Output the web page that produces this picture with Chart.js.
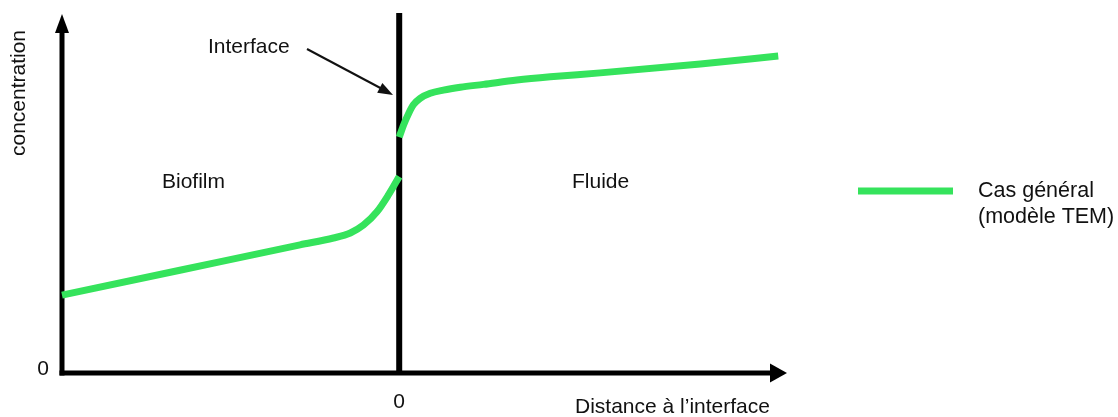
<!DOCTYPE html>
<html>
<head>
<meta charset="utf-8">
<script src="https://cdn.jsdelivr.net/npm/chart.js@4/dist/chart.umd.min.js"></script>
<style>
  body { margin: 0; background: #fff; }
  #graf { display: block; }
</style>
</head>
<body>
<canvas id="graf" width="1118" height="417"></canvas>
<script>
// profil de concentration de part et d'autre de l'interface
const biofilmX = [-10, -6.47, -2.94, -1.95, -1.45, -1.06, -0.66, -0.32, 0];
const biofilmY = [2.17, 2.87, 3.57, 3.76, 3.90, 4.12, 4.49, 4.96, 5.47];
const fluideX = [0, 0.13, 0.28, 0.42, 0.62, 0.92, 1.31, 1.81, 2.5, 3.49, 4.48, 5.96, 8.93, 11.24];
const fluideY = [6.57, 6.91, 7.23, 7.47, 7.65, 7.79, 7.88, 7.96, 8.04, 8.16, 8.25, 8.36, 8.61, 8.83];
const xTicks = [0];
const yTicks = [0];
const zones = ["Biofilm", "Fluide"];
const legende = ["Cas général", "(modèle TEM)"];
const titreX = "Distance à l’interface";
const titreY = "concentration";

const vert = "#35e35c";
const police = '21px "Liberation Sans", Arial, sans-serif';

function points(xs, ys) {
    return xs.map((x, i) => ({ x: x, y: ys[i] }));
}

function fleche(ctx, x0, y0, x1, y1, long, larg) {
    const a = Math.atan2(y1 - y0, x1 - x0);
    ctx.save();
    ctx.translate(x1, y1);
    ctx.rotate(a);
    ctx.beginPath();
    ctx.moveTo(0, 0);
    ctx.lineTo(-long, -larg / 2);
    ctx.lineTo(-long, larg / 2);
    ctx.closePath();
    ctx.fill();
    ctx.restore();
}

// axes, interface et textes
const schema = {
    id: "schema",
    beforeDatasetsDraw(chart) {
        const ctx = chart.ctx;
        const a = chart.chartArea;
        const sx = chart.scales.x;
        ctx.save();
        ctx.strokeStyle = "#000";
        ctx.fillStyle = "#000";
        ctx.lineWidth = 5;
        // axe vertical
        ctx.beginPath();
        ctx.moveTo(a.left, a.bottom + 2.5);
        ctx.lineTo(a.left, a.top + 16);
        ctx.stroke();
        fleche(ctx, a.left, a.bottom, a.left, a.top, 19, 14);
        // axe horizontal
        ctx.beginPath();
        ctx.moveTo(a.left - 2.5, a.bottom);
        ctx.lineTo(a.right - 15, a.bottom);
        ctx.stroke();
        fleche(ctx, a.left, a.bottom, a.right, a.bottom, 17, 19);
        // interface
        const xi = sx.getPixelForValue(0);
        ctx.lineWidth = 6;
        ctx.beginPath();
        ctx.moveTo(xi, a.top - 1);
        ctx.lineTo(xi, a.bottom);
        ctx.stroke();
        ctx.restore();
    },
    afterDraw(chart) {
        const ctx = chart.ctx;
        const a = chart.chartArea;
        const sx = chart.scales.x;
        const sy = chart.scales.y;
        ctx.save();
        ctx.fillStyle = "#111";
        ctx.strokeStyle = "#111";
        ctx.font = police;
        ctx.textBaseline = "alphabetic";

        // graduations
        ctx.textAlign = "center";
        xTicks.forEach(v => ctx.fillText(String(v), sx.getPixelForValue(v), a.bottom + 35));
        ctx.textAlign = "right";
        yTicks.forEach(v => ctx.fillText(String(v), a.left - 13, sy.getPixelForValue(v) + 2));

        // titres des axes
        ctx.textAlign = "left";
        ctx.fillText(titreX, 575, 413);
        ctx.save();
        ctx.translate(25, 93);
        ctx.rotate(-Math.PI / 2);
        ctx.textAlign = "center";
        ctx.fillText(titreY, 0, 0);
        ctx.restore();

        // zones
        ctx.textAlign = "left";
        ctx.fillText(zones[0], 162, 188);
        ctx.fillText(zones[1], 572, 188);

        // annotation de l'interface
        ctx.fillText("Interface", 208, 53);
        ctx.lineWidth = 2;
        ctx.beginPath();
        ctx.moveTo(307, 49);
        ctx.lineTo(386, 91);
        ctx.stroke();
        fleche(ctx, 307, 49, 393, 95, 15, 11);

        // légende
        ctx.strokeStyle = vert;
        ctx.lineWidth = 7;
        ctx.beginPath();
        ctx.moveTo(858, 191);
        ctx.lineTo(953, 191);
        ctx.stroke();
        ctx.font = '21.5px "Liberation Sans", Arial, sans-serif';
        ctx.fillText(legende[0], 978, 197);
        ctx.fillText(legende[1], 978, 223);
        ctx.restore();
    }
};

const serie = {
    borderColor: vert,
    borderWidth: 7,
    pointRadius: 0,
    fill: false,
    cubicInterpolationMode: "monotone",
    clip: false
};

new Chart(document.getElementById("graf"), {
    type: "line",
    data: {
        datasets: [
            Object.assign({ label: legende.join(" "), data: points(biofilmX, biofilmY) }, serie),
            Object.assign({ label: legende.join(" "), data: points(fluideX, fluideY) }, serie)
        ]
    },
    options: {
        responsive: false,
        devicePixelRatio: 1,
        animation: false,
        layout: { padding: { left: 62, top: 14, right: 331, bottom: 44 } },
        plugins: {
            legend: { display: false },
            tooltip: { enabled: false }
        },
        scales: {
            x: { type: "linear", min: -10, max: 11.5, display: false },
            y: { type: "linear", min: 0, max: 10, display: false }
        }
    },
    plugins: [schema]
});
</script>
</body>
</html>
